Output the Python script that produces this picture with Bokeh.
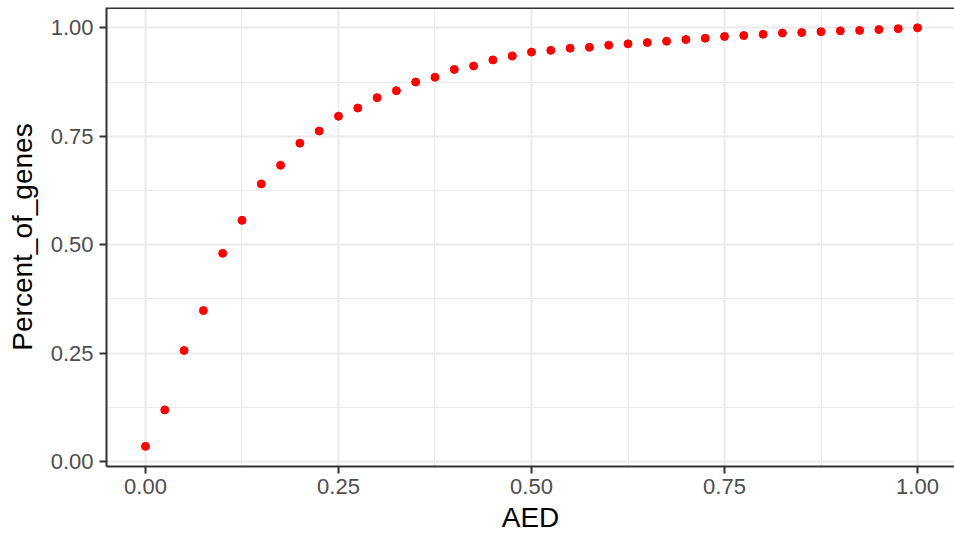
from bokeh.plotting import figure
from bokeh.models import FixedTicker, Range1d, Span
from bokeh.embed import file_html
from bokeh.resources import INLINE

aed = [0.0, 0.025, 0.05, 0.075, 0.1, 0.125, 0.15, 0.175, 0.2, 0.225,
       0.25, 0.275, 0.3, 0.325, 0.35, 0.375, 0.4, 0.425, 0.45, 0.475,
       0.5, 0.525, 0.55, 0.575, 0.6, 0.625, 0.65, 0.675, 0.7, 0.725,
       0.75, 0.775, 0.8, 0.825, 0.85, 0.875, 0.9, 0.925, 0.95, 0.975, 1.0]
percent_of_genes = [0.035, 0.119, 0.256, 0.348, 0.480, 0.556, 0.640, 0.683, 0.734, 0.762,
                    0.796, 0.815, 0.839, 0.855, 0.875, 0.886, 0.904, 0.912, 0.926, 0.935,
                    0.944, 0.948, 0.953, 0.955, 0.960, 0.963, 0.966, 0.969, 0.973, 0.976,
                    0.980, 0.982, 0.985, 0.988, 0.989, 0.991, 0.993, 0.994, 0.996, 0.998, 1.000]
major_ticks = [0.0, 0.25, 0.5, 0.75, 1.0]
minor_ticks = [0.125, 0.375, 0.625, 0.875]
tick_labels = {0.0: "0.00", 0.25: "0.25", 0.5: "0.50", 0.75: "0.75", 1.0: "1.00"}

FONT = "Liberation Sans"
y_end = 1.0468

p = figure(width=954, height=538, output_backend="svg", toolbar_location=None,
           x_range=Range1d(-0.0505, 1.0479), y_range=Range1d(-0.0115, y_end),
           min_border_left=106, min_border_top=7, min_border_right=0, min_border_bottom=72,
           background_fill_color="white", border_fill_color="white")
p.outline_line_color = None

for ax in (p.xaxis[0], p.yaxis[0]):
    ax.ticker = FixedTicker(ticks=major_ticks, minor_ticks=minor_ticks)
    ax.major_label_overrides = tick_labels
    ax.major_label_text_font = FONT
    ax.major_label_text_font_size = "22px"
    ax.major_label_text_color = "#4D4D4D"
    ax.axis_label_text_font = FONT
    ax.axis_label_text_font_size = "28px"
    ax.axis_label_text_font_style = "normal"
    ax.axis_label_text_color = "black"
    ax.axis_line_color = "#333333"
    ax.axis_line_width = 2
    ax.major_tick_line_color = "#333333"
    ax.major_tick_line_width = 2
    ax.major_tick_out = 7
    ax.major_tick_in = 0
    ax.minor_tick_out = 0
    ax.minor_tick_in = 0
    ax.minor_tick_line_color = None

p.xaxis.axis_label = "AED"
p.yaxis.axis_label = "Percent_of_genes"
p.xaxis.major_label_standoff = 5
p.xaxis.axis_label_standoff = 5
p.yaxis.major_label_standoff = 6
p.yaxis.axis_label_standoff = 10

for g in (p.xgrid[0], p.ygrid[0]):
    g.ticker = FixedTicker(ticks=major_ticks, minor_ticks=minor_ticks)
    g.grid_line_color = "#EBEBEB"
    g.grid_line_width = 2
    g.minor_grid_line_color = "#EBEBEB"
    g.minor_grid_line_width = 1

p.add_layout(Span(location=y_end, dimension="width", line_color="#333333", line_width=3))

p.scatter(aed, percent_of_genes, size=8, color="#FF0000", line_color="#FF0000")

open("out.html", "w").write(file_html(p, INLINE))
